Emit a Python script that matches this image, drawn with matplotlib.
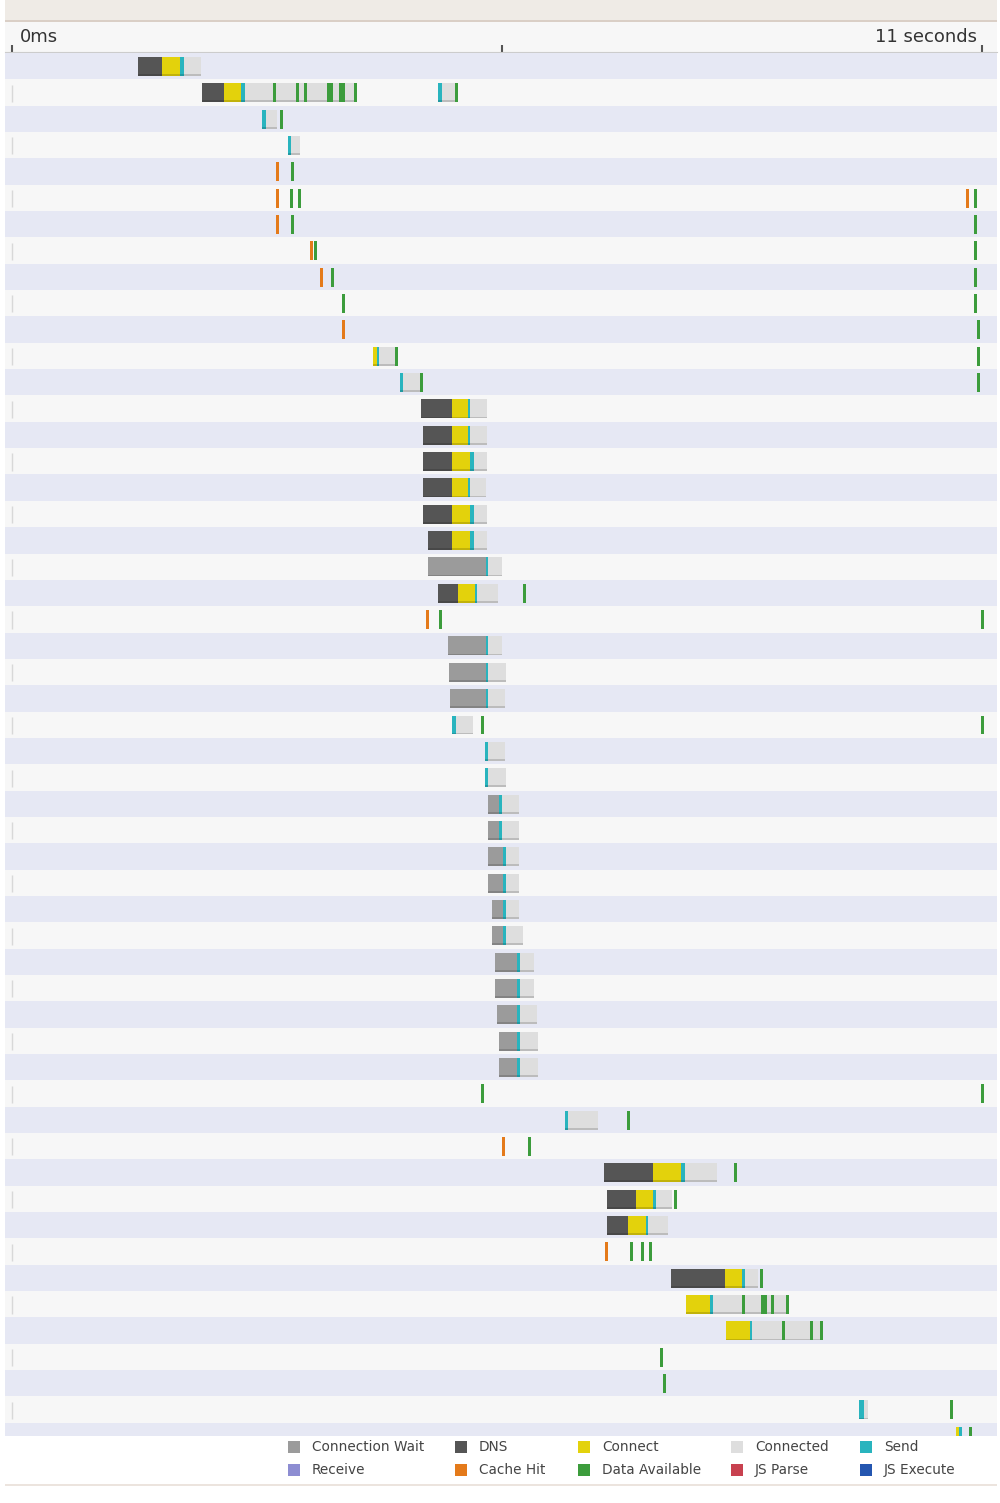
import matplotlib.pyplot as plt
from matplotlib.patches import Rectangle

# waterfall rows, times in ms
bars = [
    [('dns', 1430, 1700), ('connect', 1700, 1900), ('send', 1900, 1950), ('connected', 1950, 2140)],
    [('dns', 2150, 2400), ('connect', 2400, 2600), ('send', 2600, 2640), ('connected', 2640, 3910),
     ('send', 4830, 4880), ('connected', 4880, 5030)],
    [('send', 2835, 2880), ('connected', 2880, 3005)],
    [('send', 3130, 3165), ('connected', 3165, 3265)],
    [], [], [], [], [], [], [],
    [('connect', 4095, 4140), ('send', 4140, 4160), ('connected', 4160, 4355)],
    [('send', 4400, 4435), ('connected', 4435, 4625)],
    [('dns', 4640, 4990), ('connect', 4990, 5170), ('send', 5170, 5195), ('connected', 5195, 5385)],
    [('dns', 4660, 4990), ('connect', 4990, 5170), ('send', 5170, 5195), ('connected', 5195, 5385)],
    [('dns', 4660, 4990), ('connect', 4990, 5195), ('send', 5195, 5240), ('connected', 5240, 5385)],
    [('dns', 4660, 4990), ('connect', 4990, 5170), ('send', 5170, 5195), ('connected', 5195, 5375)],
    [('dns', 4660, 4990), ('connect', 4990, 5195), ('send', 5195, 5240), ('connected', 5240, 5385)],
    [('dns', 4715, 4990), ('connect', 4990, 5195), ('send', 5195, 5240), ('connected', 5240, 5385)],
    [('wait', 4715, 5375), ('send', 5375, 5400), ('connected', 5400, 5555)],
    [('dns', 4830, 5060), ('connect', 5060, 5250), ('send', 5250, 5275), ('connected', 5275, 5510)],
    [],
    [('wait', 4945, 5375), ('send', 5375, 5400), ('connected', 5400, 5555)],
    [('wait', 4955, 5375), ('send', 5375, 5400), ('connected', 5400, 5600)],
    [('wait', 4965, 5375), ('send', 5375, 5400), ('connected', 5400, 5590)],
    [('send', 4990, 5035), ('connected', 5035, 5230)],
    [('send', 5365, 5400), ('connected', 5400, 5590)],
    [('send', 5365, 5400), ('connected', 5400, 5600)],
    [('wait', 5400, 5525), ('send', 5525, 5555), ('connected', 5555, 5750)],
    [('wait', 5400, 5525), ('send', 5525, 5555), ('connected', 5555, 5750)],
    [('wait', 5400, 5570), ('send', 5570, 5600), ('connected', 5600, 5750)],
    [('wait', 5400, 5570), ('send', 5570, 5600), ('connected', 5600, 5750)],
    [('wait', 5445, 5570), ('send', 5570, 5600), ('connected', 5600, 5750)],
    [('wait', 5445, 5570), ('send', 5570, 5600), ('connected', 5600, 5795)],
    [('wait', 5475, 5725), ('send', 5725, 5760), ('connected', 5760, 5920)],
    [('wait', 5475, 5725), ('send', 5725, 5760), ('connected', 5760, 5920)],
    [('wait', 5500, 5725), ('send', 5725, 5760), ('connected', 5760, 5955)],
    [('wait', 5525, 5725), ('send', 5725, 5760), ('connected', 5760, 5965)],
    [('wait', 5525, 5725), ('send', 5725, 5760), ('connected', 5760, 5965)],
    [],
    [('send', 6270, 6305), ('connected', 6305, 6645)],
    [],
    [('dns', 6715, 7270), ('connect', 7270, 7585), ('send', 7585, 7630), ('connected', 7630, 7995)],
    [('dns', 6745, 7075), ('connect', 7075, 7270), ('send', 7270, 7305), ('connected', 7305, 7485)],
    [('dns', 6745, 6985), ('connect', 6985, 7190), ('send', 7190, 7210), ('connected', 7210, 7440)],
    [],
    [('dns', 7475, 8085), ('connect', 8085, 8280), ('send', 8280, 8310), ('connected', 8310, 8460)],
    [('connect', 7645, 7915), ('send', 7915, 7950), ('connected', 7950, 8800)],
    [('connect', 8095, 8370), ('send', 8370, 8390), ('connected', 8390, 9195)],
    [], [],
    [('send', 9605, 9660), ('connected', 9660, 9705)],
    [('connect', 10705, 10740), ('send', 10740, 10775)],
]

data_hits = {
    1: [2980, 3240, 3330, 3585, 3620, 3720, 3755, 3900, 5045],
    2: [3060], 4: [3185], 5: [3175, 3255, 10930], 6: [3185, 10930],
    7: [3440, 10930], 8: [3630, 10930], 9: [3755, 10930], 10: [10965],
    11: [4365, 10965], 12: [4640, 10965], 20: [5815], 21: [4855, 11000],
    25: [5330, 11000], 39: [5330, 11000], 40: [6995], 41: [5865],
    42: [8210], 43: [7520], 45: [7030, 7145, 7235], 46: [8495],
    47: [8290, 8515, 8545, 8620, 8790], 48: [8745, 9070, 9185],
    49: [7360], 50: [7405], 51: [10650], 52: [10875],
}
cache_hits = {4: [3015], 5: [3015, 10840], 6: [3015], 7: [3400], 8: [3505],
              10: [3755], 21: [4715], 41: [5570], 45: [6745]}

legend_names = ['Connection Wait', 'DNS', 'Connect', 'Connected', 'Send',
                'Receive', 'Cache Hit', 'Data Available', 'JS Parse', 'JS Execute']
legend_keys = ['wait', 'dns', 'connect', 'connected', 'send',
               'receive', 'cache', 'data', 'jsparse', 'jsexec']

colors = {'wait': '#9b9b9b', 'dns': '#555555', 'connect': '#e3d20c', 'connected': '#dedede',
          'send': '#29b4be', 'receive': '#8d8dd2', 'cache': '#e47a1a', 'data': '#3c9c3c',
          'jsparse': '#c8414f', 'jsexec': '#2456b0'}

W, H = 1000, 1503
def fy(px):
    return 1 - px / H

PX = 11.34          # ms per pixel
xlim = (-7 * PX, 985 * PX)
nrows = len(bars)
tick_w = 34

fig = plt.figure(figsize=(10, 15.03), dpi=100)
fig.patch.set_facecolor('white')

# top band
fig.add_artist(Rectangle((5 / W, fy(20)), 992 / W, 20 / H, transform=fig.transFigure,
                         facecolor='#efebe6', lw=0))
fig.add_artist(Rectangle((5 / W, fy(22)), 992 / W, 2 / H, transform=fig.transFigure,
                         facecolor='#dacfc6', lw=0))

# time header
hx = fig.add_axes([5 / W, fy(52), 992 / W, 30 / H])
hx.set_facecolor('#f7f7f7')
hx.set_xlim(*xlim)
hx.set_ylim(0, 1)
for s in ['top', 'left', 'right']:
    hx.spines[s].set_visible(False)
hx.spines['bottom'].set_color('#cccccc')
hx.set_yticks([])
hx.set_xticks([0, 5560, 11000])
hx.tick_params(axis='x', direction='in', length=5, width=1.5, color='#555555', labelbottom=False)
hx.text(90, 0.5, '0ms', ha='left', va='center', fontsize=13, color='#333333')
hx.text(10945, 0.5, '11 seconds', ha='right', va='center', fontsize=13, color='#333333')

# rows
ax = fig.add_axes([5 / W, fy(1436), 992 / W, (1436 - 53) / H])
ax.set_xlim(*xlim)
ax.set_ylim(52.5, 0)
ax.axis('off')
for i in range(nrows):
    ax.axhspan(i, i + 1, color='#e6e8f4' if i % 2 == 0 else '#f7f7f7', lw=0)
    if i % 2 == 1:
        ax.vlines(0, i + 0.2, i + 0.85, color='#d8d8d8', lw=1)
    for kind, s, e in bars[i]:
        ax.broken_barh([(s, e - s)], (i + 0.15, 0.72), facecolors=colors[kind])
        ax.broken_barh([(s, e - s)], (i + 0.80, 0.07), facecolors='#000000', alpha=0.15)
    for t in cache_hits.get(i, []):
        ax.broken_barh([(t - tick_w / 2, tick_w)], (i + 0.15, 0.72), facecolors=colors['cache'])
    for t in data_hits.get(i, []):
        ax.broken_barh([(t - tick_w / 2, tick_w)], (i + 0.15, 0.72), facecolors=colors['data'])

# legend
sq_x = [288, 455, 578, 731, 860]
for k, (name, key) in enumerate(zip(legend_names, legend_keys)):
    col = k % 5
    ypx = 1447 if k < 5 else 1470
    fig.add_artist(Rectangle((sq_x[col] / W, fy(ypx + 6)), 12 / W, 12 / H,
                             transform=fig.transFigure, facecolor=colors[key], lw=0))
    fig.text((sq_x[col] + 24) / W, fy(ypx), name, ha='left', va='center',
             fontsize=9.8, color='#444444')

fig.add_artist(Rectangle((5 / W, fy(1486)), 992 / W, 2 / H, transform=fig.transFigure,
                         facecolor='#ece4de', lw=0))

plt.savefig('out.png', dpi=100)
